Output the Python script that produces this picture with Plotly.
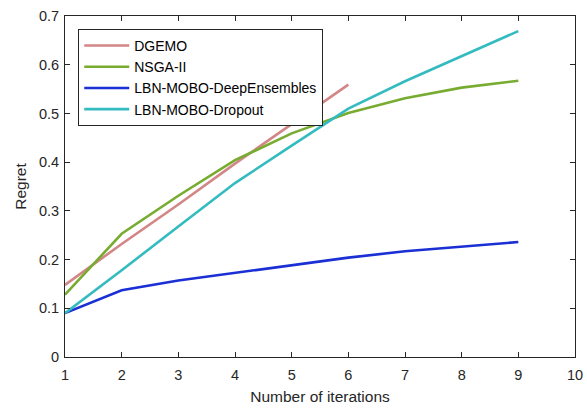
import plotly.graph_objects as go

iterations = [1, 2, 3, 4, 5, 6, 7, 8, 9]
dgemo_x = [1, 2, 3, 4, 5, 6]
dgemo = [0.148, 0.232, 0.313, 0.397, 0.478, 0.559]
nsga2 = [0.128, 0.253, 0.331, 0.404, 0.459, 0.501, 0.531, 0.553, 0.567]
deep_ens = [0.090, 0.137, 0.157, 0.173, 0.188, 0.204, 0.217, 0.226, 0.236]
dropout = [0.090, 0.178, 0.268, 0.357, 0.434, 0.510, 0.566, 0.618, 0.669]

x_ticks = [1, 2, 3, 4, 5, 6, 7, 8, 9, 10]
y_ticks = [0, 0.1, 0.2, 0.3, 0.4, 0.5, 0.6, 0.7]
y_tick_text = ["0", "0.1", "0.2", "0.3", "0.4", "0.5", "0.6", "0.7"]

series = [
    ("DGEMO", dgemo_x, dgemo, "#D38686"),
    ("NSGA-II", iterations, nsga2, "#77AC30"),
    ("LBN-MOBO-DeepEnsembles", iterations, deep_ens, "#1A2FD4"),
    ("LBN-MOBO-Dropout", iterations, dropout, "#33BBC0"),
]

fig = go.Figure()
for name, xs, ys, color in series:
    fig.add_trace(go.Scatter(x=xs, y=ys, mode="lines", name=name,
                             line=dict(color=color, width=2.6)))

FONT = "Liberation Sans, Arial"
axis_common = dict(
    showline=True, linecolor="#262626", linewidth=1, mirror="ticks",
    ticks="inside", ticklen=5, tickcolor="#262626", tickwidth=1,
    showgrid=False, zeroline=False, automargin=False,
    tickfont=dict(family=FONT, size=14.5, color="#262626"),
)

fig.update_layout(
    width=587, height=410,
    margin=dict(l=65, r=12, t=16, b=53),
    paper_bgcolor="white", plot_bgcolor="white",
    font=dict(family=FONT, size=14.5, color="#262626"),
    showlegend=True,
    legend=dict(x=0.026, y=0.962, xanchor="left", yanchor="top",
                bordercolor="#262626", borderwidth=1, bgcolor="white",
                font=dict(family=FONT, size=14, color="black"),
                tracegroupgap=0, itemwidth=45),
    xaxis=dict(range=[1, 10], tickvals=x_ticks, ticklabelstandoff=5,
               title=dict(text="Number of iterations", standoff=8,
                          font=dict(size=15.5, color="#262626")),
               **axis_common),
    yaxis=dict(range=[0, 0.7], tickvals=y_ticks, ticktext=y_tick_text,
               ticklabelstandoff=2,
               title=dict(text="Regret", standoff=8,
                          font=dict(size=15.5, color="#262626")),
               **axis_common),
)

fig.write_html("out.html", config={"displayModeBar": False},
               post_script="document.body.style.margin='0';document.body.style.overflow='hidden';")
